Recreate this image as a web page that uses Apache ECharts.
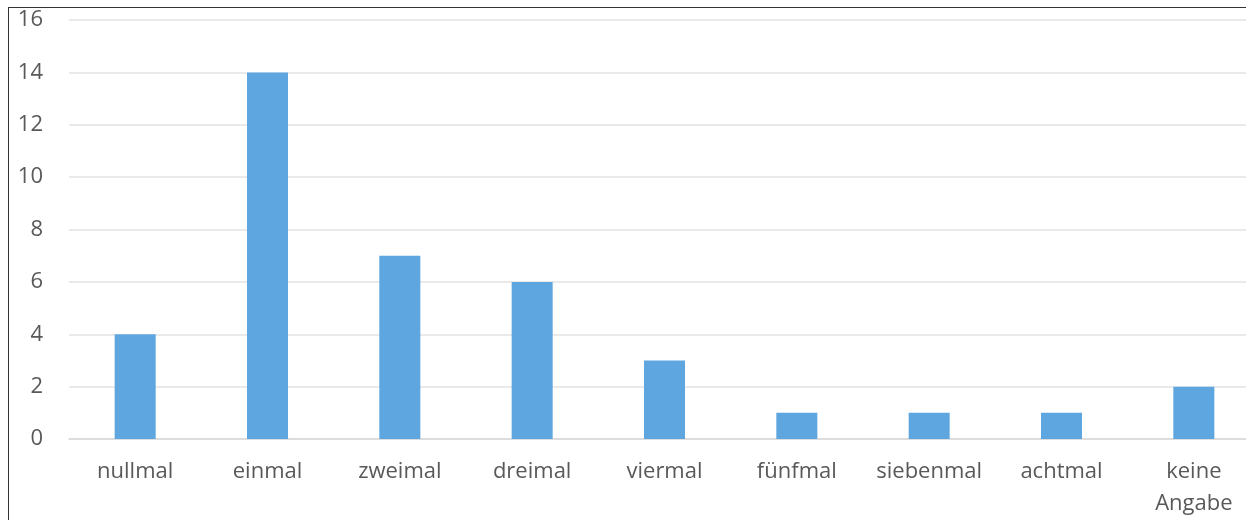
<!DOCTYPE html>
<html>
<head>
<meta charset="utf-8">
<script src="https://cdn.jsdelivr.net/npm/echarts@6/dist/echarts.min.js"></script>
<style>
  html, body { margin: 0; padding: 0; background: #fff; overflow: hidden; }
  #frame { position: absolute; left: 8px; top: 7px; width: 1238px; height: 513px;
           border-left: 1.5px solid #333; border-top: 1.5px solid #333; box-sizing: border-box; }
  #chart { position: absolute; left: 0; top: 0; width: 1246px; height: 520px; }
</style>
</head>
<body>
<div id="frame"></div>
<div id="chart"></div>
<script>
// Anzahl der Nennungen je Antwortkategorie
const categories = ['nullmal', 'einmal', 'zweimal', 'dreimal', 'viermal', 'fünfmal', 'siebenmal', 'achtmal', 'keine\nAngabe'];
const counts = [4, 14, 7, 6, 3, 1, 1, 1, 2];
const yTicks = { min: 0, max: 16, step: 2 };

const chart = echarts.init(document.getElementById('chart'));
chart.setOption({
  animation: false,
  grid: { left: 69, top: 20, width: 1191, height: 419, outerBoundsMode: 'none', containLabel: false },
  xAxis: {
    type: 'category',
    data: categories,
    axisLine: { show: true, lineStyle: { color: '#d9d9d9', width: 1.5 } },
    axisTick: { show: false },
    axisLabel: {
      interval: 0, margin: 17, color: '#595959', fontSize: 22, lineHeight: 32,
      fontFamily: 'Open Sans', hideOverlap: false
    }
  },
  yAxis: {
    type: 'value',
    min: yTicks.min, max: yTicks.max, interval: yTicks.step,
    axisLine: { show: false },
    axisTick: { show: false },
    splitLine: { lineStyle: { color: '#e3e3e3', width: 1.5 } },
    axisLabel: { margin: 26, color: '#595959', fontSize: 22, fontFamily: 'Open Sans', padding: [6, 0, 0, 0] }
  },
  series: [{
    type: 'bar',
    data: counts,
    barWidth: '31%',
    itemStyle: { color: '#5ea6df' }
  }]
});
</script>
</body>
</html>
